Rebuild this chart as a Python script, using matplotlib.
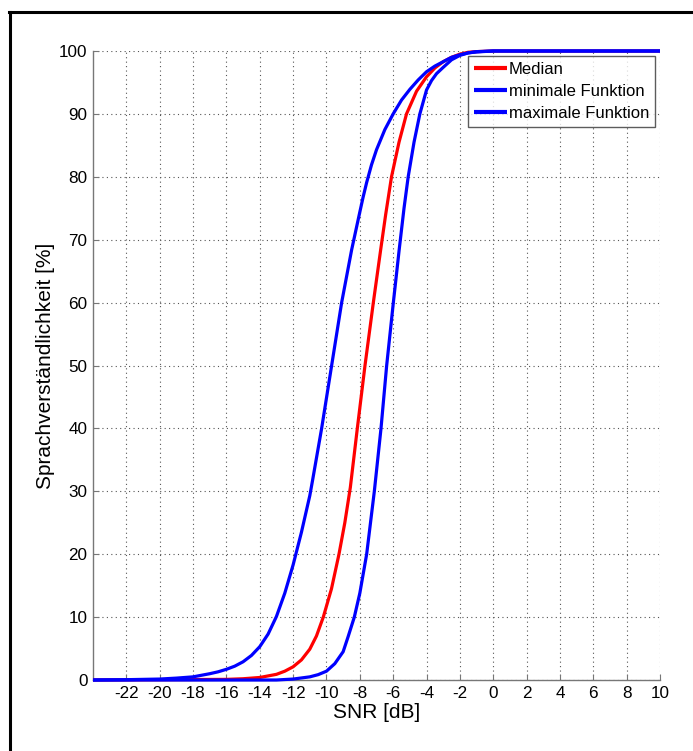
import matplotlib
matplotlib.use("Agg")
import matplotlib.pyplot as plt
from matplotlib.lines import Line2D

plt.rcParams['font.family'] = ['Liberation Sans', 'DejaVu Sans']
plt.rcParams['axes.unicode_minus'] = False

# --- data ---
snr_max = [-24, -22, -20, -19, -18, -17, -16.5, -16, -15.5, -15, -14.5, -14, -13.5, -13,
           -12.5, -12, -11.5, -11, -10.83, -10.29, -9.69, -9.09, -8.49, -8.0, -7.8,
           -7.59, -7.3, -7.0, -6.5, -6.0, -5.5, -5, -4.5, -4, -3.5, -3, -2.5, -2,
           -1.5, -1, 0, 10]
val_max = [0.0, 0.05, 0.15, 0.3, 0.5, 1.0, 1.3, 1.7, 2.2, 2.9, 3.9, 5.3, 7.3, 10.1,
           13.8, 18.3, 23.5, 29.3, 31.8, 40.0, 50.0, 60.0, 68.4, 74.4, 76.8,
           79.1, 81.9, 84.3, 87.5, 90.0, 92.2, 93.9, 95.4, 96.7, 97.6, 98.3, 99.0, 99.4,
           99.7, 99.85, 100.0, 100.0]

snr_med = [-24, -16, -15, -14, -13, -12.5, -12, -11.5, -11, -10.6, -10.19, -9.7, -9.25,
           -8.9, -8.57, -8.15, -7.69, -7.19, -6.75, -6.45, -6.1, -5.65, -5.2, -4.6, -4,
           -3.5, -3, -2.5, -2, -1.5, -1, 0, 10]
val_med = [0.0, 0.1, 0.2, 0.4, 0.9, 1.4, 2.1, 3.2, 4.9, 7.0, 10.0, 14.5, 20.0,
           25.0, 30.6, 40.0, 50.0, 60.0, 68.4, 74.0, 80.0, 85.5, 90.0, 93.6, 95.9,
           97.3, 98.3, 99.0, 99.5, 99.8, 99.9, 100.0, 100.0]

snr_min = [-24, -13, -12, -11, -10.5, -10, -9.5, -9, -8.7, -8.33, -8, -7.59, -7.13,
           -6.73, -6.39, -5.99, -5.64, -5.35, -5.1, -4.75, -4.4, -4.0, -3.7, -3.4,
           -3.0, -2.5, -2.0, -1.5, -1.0, 0, 10]
val_min = [0.0, 0.0, 0.15, 0.5, 0.85, 1.4, 2.6, 4.5, 6.9, 10.0, 13.8, 20.0, 30.0,
           40.0, 50.0, 60.0, 68.4, 75.0, 80.0, 85.5, 90.0, 93.8, 95.3, 96.4,
           97.4, 98.6, 99.3, 99.7, 99.9, 100.0, 100.0]

x_ticks = list(range(-22, 11, 2))
y_ticks = list(range(0, 101, 10))
labels = ['Median', 'minimale Funktion', 'maximale Funktion']

W, H = 693, 751
fig = plt.figure(figsize=(W / 100, H / 100), dpi=100)
ax = fig.add_axes([93 / W, 1 - 680 / H, (660 - 93) / W, (680 - 51) / H])

lw = 2.3
kw = dict(lw=lw, clip_on=False, solid_joinstyle='round', solid_capstyle='butt')
ax.plot(snr_med, val_med, color='#ff0000', label=labels[0], zorder=3, **kw)
ax.plot(snr_min, val_min, color='#0000ff', label=labels[1], zorder=4, **kw)
ax.plot(snr_max, val_max, color='#0000ff', label=labels[2], zorder=5, **kw)

ax.set_xlim(-24, 10)
ax.set_ylim(0, 100)
ax.set_xticks(x_ticks)
ax.set_yticks(y_ticks)
ax.grid(True, linestyle=(0, (1, 3)), color='#555555', lw=0.8)
ax.tick_params(direction='in', length=4, color='#777777', labelsize=12.3, pad=4)
for s in ['top', 'right']:
    ax.spines[s].set_visible(False)
for s in ['left', 'bottom']:
    ax.spines[s].set_color('#777777')
    ax.spines[s].set_linewidth(1.0)

ax.set_xlabel('SNR [dB]', fontsize=15, labelpad=2)
ax.set_ylabel('Sprachverständlichkeit [%]', fontsize=15, labelpad=3)

leg = ax.legend(loc='upper right', fontsize=12, frameon=True, fancybox=False,
                borderaxespad=0.3, handlelength=2.0, handletextpad=0.1,
                labelspacing=0.42, borderpad=0.35)
leg.get_frame().set_edgecolor('#333333')
leg.get_frame().set_linewidth(1.0)
leg.set_zorder(10)
for h in leg.get_lines():
    h.set_linewidth(3)

# figure border (top and left visible)
fig.add_artist(Line2D([10 / W, 10 / W], [0, 1 - 12 / H], color='black', lw=2.2,
                      transform=fig.transFigure))
fig.add_artist(Line2D([9 / W, 1], [1 - 12 / H, 1 - 12 / H], color='black', lw=2.2,
                      transform=fig.transFigure))

fig.savefig('out.png', dpi=100)
